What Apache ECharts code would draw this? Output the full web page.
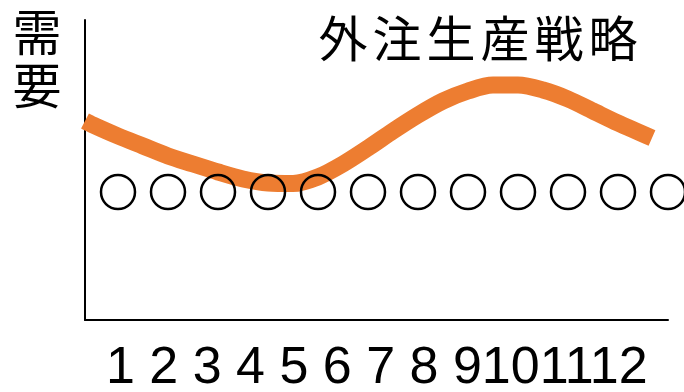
<!DOCTYPE html>
<html><head><meta charset="utf-8">
<script src="https://cdn.jsdelivr.net/npm/echarts@6/dist/echarts.min.js"></script>
<style>html,body{margin:0;padding:0;background:#fff}#c{width:684px;height:392px}</style>
</head><body><div id="c"></div>
<script>
const titleText = '外注生産戦略';
const yAxisName = '需要';
const months = ['1','2','3','4','5','6','7','8','9','10','11','12'];
// demand curve (x in month units, y in demand units)
const demandX = [0.34, 0.5, 1, 1.5, 2, 2.5, 3, 3.5, 4, 4.5, 5, 5.5, 6, 6.5, 7, 7.5, 8, 8.5, 9, 9.5, 10, 10.5, 11, 11.68];
const demandY = [199, 195, 184, 174, 164, 156, 148, 141, 137, 136.5, 143, 156, 172, 189, 205, 219, 229, 235, 235, 230, 221, 209, 197, 182];
// production circles (one per month, constant level)
const productionLevel = [128,128,128,128,128,128,128,128,128,128,128,128];

const chart = echarts.init(document.getElementById('c'), null, {renderer:'canvas'});
const curve = demandX.map((x,i)=>[x, demandY[i]]);
const circles = months.map((m,i)=>[i+1, productionLevel[i]]);
const titleGraphics = titleText.split('').map((ch,i)=>({
  type:'text', z:10,
  style:{text:ch, x:343+i*54, y:38, font:'49px "Noto Sans CJK JP"', fill:'#000', textAlign:'center', textVerticalAlign:'middle'}
}));
const yNameGraphics = yAxisName.split('').map((ch,i)=>({
  type:'text', z:10,
  style:{text:ch, x:37, y:32+i*53, font:'49px "Noto Sans CJK JP"', fill:'#000', textAlign:'center', textVerticalAlign:'middle'}
}));
const tickString = months.slice(0,9).join(' ') + months.slice(9).join('');
chart.setOption({
  animation:false,
  backgroundColor:'#fff',
  grid:{left:85, right:16, top:20, bottom:72},
  xAxis:{type:'value', min:0.34, max:12,
    axisLine:{show:true, lineStyle:{color:'#000', width:2}},
    axisTick:{show:false}, axisLabel:{show:false}, splitLine:{show:false}},
  yAxis:{type:'value', min:0, max:300,
    axisLine:{show:true, lineStyle:{color:'#000', width:2}},
    axisTick:{show:false}, axisLabel:{show:false}, splitLine:{show:false}},
  series:[
    {type:'line', data:curve, smooth:0.3, showSymbol:false, z:2,
     lineStyle:{color:'#ED7D31', width:17, cap:'butt', join:'round'}},
    {type:'scatter', data:circles, symbol:'circle', symbolSize:34, z:3, clip:false,
     itemStyle:{color:'rgba(255,255,255,0)', borderColor:'#000', borderWidth:2.5, opacity:1}}
  ],
  graphic:[
    ...titleGraphics,
    ...yNameGraphics,
    {type:'text', z:10, style:{text:tickString, x:106, y:369, font:'52px "Liberation Sans"', fill:'#000', textAlign:'left', textVerticalAlign:'middle'}}
  ]
});
</script></body></html>
